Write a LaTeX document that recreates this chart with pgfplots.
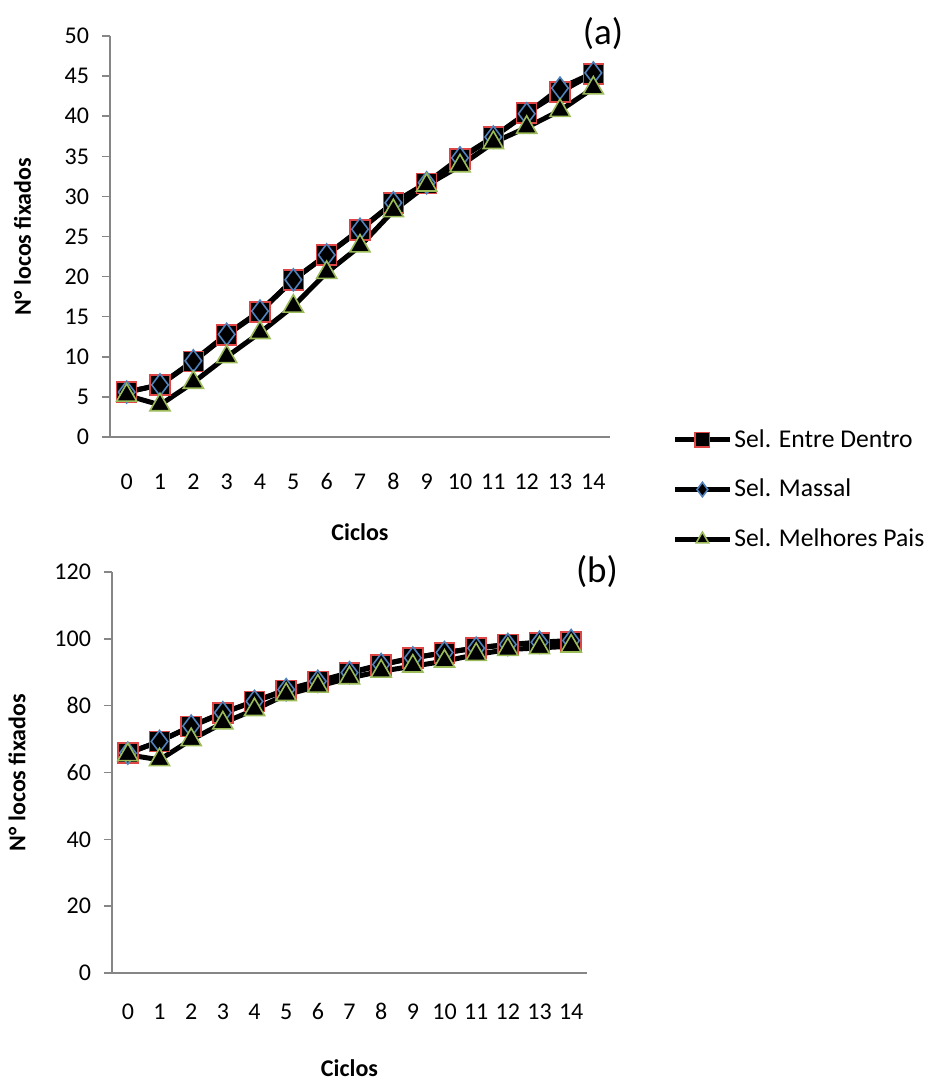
\documentclass[border=0pt]{standalone}
\usepackage{pgfplots}
\pgfplotsset{compat=1.18}
\usepackage{fontspec}
\setmainfont{Carlito}
\definecolor{axgray}{RGB}{134,134,134}
\definecolor{mred}{RGB}{222,70,70}
\definecolor{mblue}{RGB}{79,129,189}
\definecolor{mgreen}{RGB}{155,187,89}
\pgfplotsset{
  common/.style={
    scale only axis,
    font=\fontsize{12}{14}\selectfont,
    /pgf/number format/assume math mode=true,
    axis x line*=bottom, axis y line*=left,
    axis line style={draw=axgray, line width=0.8pt},
    xmin=-0.5, xmax=14.5,
    xtick={0,...,14},
    xtick style={draw=none},
    ytick style={draw=axgray, line width=0.8pt},
    tick align=outside, major tick length=4pt,
    yticklabel style={xshift=-3pt},
    xticklabel style={text height=1.6ex, text depth=0.2ex},
    every axis plot/.append style={line width=2.5pt, black},
    legend image code/.code={\draw[#1, mark size=3.6pt, mark repeat=2, mark phase=2] plot coordinates {(0pt,0pt) (13.75pt,0pt) (27.5pt,0pt)};},
  },
  sED/.style={mark=square*, mark size=5pt, mark options={draw=mred, fill=black, line width=0.8pt, solid}},
  sMA/.style={mark=diamond*, mark size=5.5pt, mark options={draw=mblue, fill=black, line width=0.8pt, solid}},
  sMP/.style={mark=triangle*, mark size=5.8pt, mark options={draw=mgreen, fill=black, line width=0.8pt, solid}},
}
\begin{document}
\begin{tikzpicture}
\path[use as bounding box] (0,0) rectangle (466pt,-541.5pt);
% ---------- (a)
\begin{axis}[common,
  at={(55pt,-18pt)}, anchor=north west,
  width=250pt, height=200.5pt,
  ymin=0, ymax=50, ytick={0,5,...,50},
  xticklabel style={yshift=-11pt},
  xlabel={\bfseries Ciclos},
  ylabel={\bfseries N° locos fixados},
  xlabel style={at={(axis description cs:0.5,-0.237)}, anchor=center},
  ylabel style={at={(axis description cs:-0.175,0.5)}, anchor=center},
  legend style={draw=none, fill=none, at={(axis description cs:1.124,0.025)}, anchor=north west,
    row sep=12.5pt, inner sep=0pt, font=\fontsize{12.8}{14}\selectfont,
    nodes={inner sep=1pt}},
  legend cell align=left,
  clip=false,
]
\addplot[sED] coordinates {(0,5.6) (1,6.5) (2,9.4) (3,12.7) (4,15.6) (5,19.6) (6,22.7) (7,25.8) (8,29.2) (9,31.6) (10,34.7) (11,37.4) (12,40.4) (13,43.0) (14,45.3)};
\addlegendentry{Sel. Entre Dentro}
\addplot[sMA] coordinates {(0,5.6) (1,6.5) (2,9.5) (3,12.8) (4,15.7) (5,19.6) (6,22.7) (7,25.9) (8,29.2) (9,31.7) (10,34.8) (11,37.4) (12,40.3) (13,43.5) (14,45.4)};
\addlegendentry{Sel. Massal}
\addplot[sMP] coordinates {(0,5.2) (1,4.0) (2,6.8) (3,10.0) (4,13.0) (5,16.3) (6,20.5) (7,23.8) (8,28.2) (9,31.4) (10,33.8) (11,36.7) (12,38.6) (13,40.7) (14,43.5)};
\addlegendentry{Sel. Melhores Pais}
\node[font=\fontsize{18.5}{20}\selectfont] at (axis description cs:0.986,1.007) {(a)};
\end{axis}
% ---------- (b)
\begin{axis}[common,
  at={(56pt,-286pt)}, anchor=north west,
  width=237.5pt, height=200.5pt,
  ymin=0, ymax=120, ytick={0,20,...,120},
  xticklabel style={yshift=-8pt},
  xlabel={\bfseries Ciclos},
  ylabel={\bfseries N° locos fixados},
  xlabel style={at={(axis description cs:0.5,-0.237)}, anchor=center},
  ylabel style={at={(axis description cs:-0.2,0.5)}, anchor=center},
  clip=false,
]
\addplot[sED] coordinates {(0,65.8) (1,69.3) (2,73.8) (3,77.8) (4,81.3) (5,84.6) (6,87.2) (7,89.7) (8,92.2) (9,94.3) (10,95.8) (11,97.3) (12,98.3) (13,98.8) (14,99.0)};
\addplot[sMA] coordinates {(0,65.8) (1,69.3) (2,73.9) (3,77.9) (4,81.3) (5,84.8) (6,87.3) (7,89.9) (8,92.3) (9,94.3) (10,95.9) (11,97.2) (12,98.3) (13,99.0) (14,99.5)};
\addplot[sMP] coordinates {(0,65.3) (1,63.8) (2,69.8) (3,74.8) (4,78.8) (5,83.3) (6,85.8) (7,88.3) (8,90.3) (9,91.8) (10,93.3) (11,95.3) (12,96.8) (13,97.3) (14,97.8)};
\node[font=\fontsize{18.5}{20}\selectfont] at (axis description cs:1.021,1.0) {(b)};
\end{axis}
\end{tikzpicture}
\end{document}
